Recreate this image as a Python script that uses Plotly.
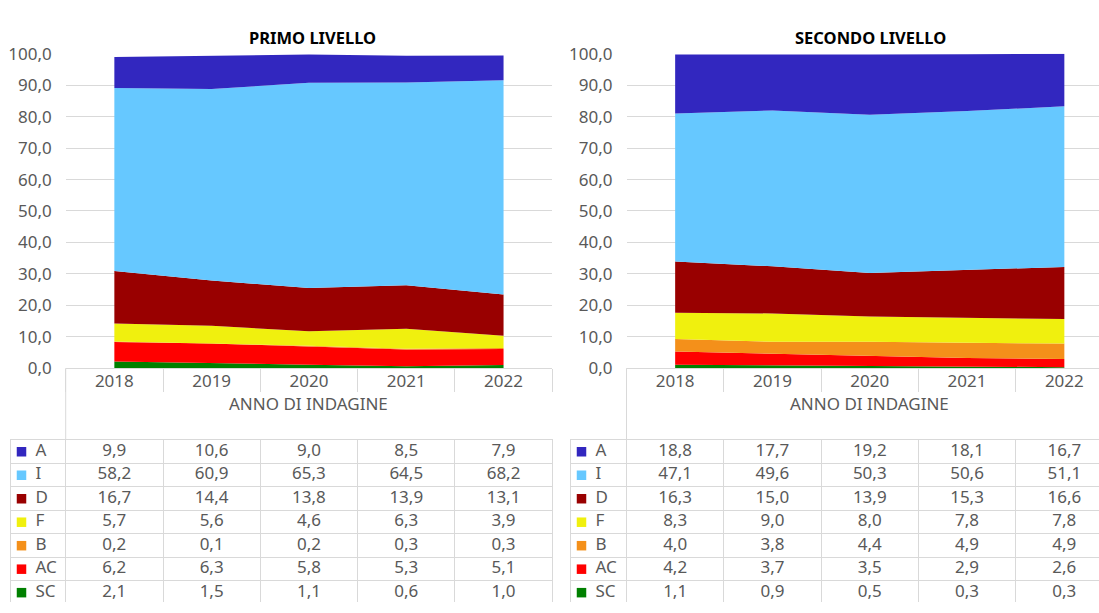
import plotly.graph_objects as go

# ---------------- data ----------------
years = ["2018", "2019", "2020", "2021", "2022"]
series = ["A", "I", "D", "F", "B", "AC", "SC"]
series_colors = ["#3227BF", "#66C8FF", "#990000", "#F0F00E", "#F4901A", "#FF0000", "#008000"]

primo_A = [9.9, 10.6, 9.0, 8.5, 7.9]
primo_I = [58.2, 60.9, 65.3, 64.5, 68.2]
primo_D = [16.7, 14.4, 13.8, 13.9, 13.1]
primo_F = [5.7, 5.6, 4.6, 6.3, 3.9]
primo_B = [0.2, 0.1, 0.2, 0.3, 0.3]
primo_AC = [6.2, 6.3, 5.8, 5.3, 5.1]
primo_SC = [2.1, 1.5, 1.1, 0.6, 1.0]

secondo_A = [18.8, 17.7, 19.2, 18.1, 16.7]
secondo_I = [47.1, 49.6, 50.3, 50.6, 51.1]
secondo_D = [16.3, 15.0, 13.9, 15.3, 16.6]
secondo_F = [8.3, 9.0, 8.0, 7.8, 7.8]
secondo_B = [4.0, 3.8, 4.4, 4.9, 4.9]
secondo_AC = [4.2, 3.7, 3.5, 2.9, 2.6]
secondo_SC = [1.1, 0.9, 0.5, 0.3, 0.3]

titles = ["PRIMO LIVELLO", "SECONDO LIVELLO"]
x_title = "ANNO DI INDAGINE"

primo = [primo_A, primo_I, primo_D, primo_F, primo_B, primo_AC, primo_SC]
secondo = [secondo_A, secondo_I, secondo_D, secondo_F, secondo_B, secondo_AC, secondo_SC]

# ---------------- geometry (pixels) ----------------
W, H = 1099, 613
FONT = "Noto Sans"
FS = 17
GREY = "#595959"
GRID = "#d9d9d9"

def px(x):
    return x / W

def py(y):
    return 1 - y / H

COL = 97.3  # px per category
plot_top, plot_bot = 43.5, 370.0
tab_top = 444.7
row_h = 24.4
panels = [
    dict(x0=65.7, x1=552.3, lab0=11.0, data=primo, suf="", tsuf="3", mirror=True, title_cx=312),
    dict(x0=626.5, x1=1099.0, lab0=571.0, data=secondo, suf="2", tsuf="4", mirror=False, title_cx=870),
]

fig = go.Figure()
layout = dict(
    width=W, height=H, autosize=False,
    margin=dict(l=0, r=0, t=0, b=0),
    paper_bgcolor="white", plot_bgcolor="white",
    separators=",.",
    showlegend=False,
    font=dict(family=FONT, size=FS, color=GREY),
    hovermode=False,
    annotations=[], shapes=[],
)

def fmt(v):
    return f"{v:.1f}".replace(".", ",")

for p_i, p in enumerate(panels):
    xa = "x" + p["suf"]
    ya = "y" + p["suf"]
    xt = "x" + p["tsuf"]
    yt = "y" + p["tsuf"]
    rng_hi = -0.5 + (p["x1"] - p["x0"]) / COL
    # stacked areas, bottom first
    for name, vals, col in reversed(list(zip(series, p["data"], series_colors))):
        fig.add_trace(go.Scatter(
            x=years, y=vals, name=name, mode="lines", stackgroup="s" + str(p_i),
            line=dict(width=0, color=col), fillcolor=col,
            xaxis=xa, yaxis=ya,
        ))
    layout["xaxis" + p["suf"]] = dict(
        domain=[px(p["x0"]), px(p["x1"])], anchor=ya,
        type="category", categoryorder="array", categoryarray=years,
        range=[-0.5, rng_hi], showgrid=False, zeroline=False,
        showline=True, linecolor=GRID, linewidth=1,
        ticks="outside", tickson="boundaries", ticklen=23, tickcolor=GRID, tickwidth=1,
        tickfont=dict(family=FONT, size=FS, color=GREY),
        ticklabelstandoff=-3,
        fixedrange=True,
    )
    layout["yaxis" + p["suf"]] = dict(
        domain=[py(plot_bot), py(plot_top)], anchor=xa,
        range=[0, 100], dtick=10, tick0=0, tickformat=".1f",
        showgrid=True, gridcolor=GRID, gridwidth=1, zeroline=False, showline=False,
        ticks="", tickfont=dict(family=FONT, size=FS, color=GREY),
        ticklabelstandoff=13, fixedrange=True,
    )
    # table
    lab_lo = -0.5 - (p["x0"] - p["lab0"]) / COL
    tx, ty, tt = [], [], []
    for r, vals in enumerate(p["data"]):
        for c, v in enumerate(vals):
            tx.append(c)
            ty.append(r)
            tt.append(fmt(v))
    fig.add_trace(go.Scatter(
        x=tx, y=ty, text=tt, mode="text", textposition="middle center",
        textfont=dict(family=FONT, size=FS, color=GREY),
        xaxis=xt, yaxis=yt,
    ))
    sq_x = -0.5 - (p["x0"] - (p["lab0"] + 10.5)) / COL
    lab_x = -0.5 - (p["x0"] - (p["lab0"] + 24.5)) / COL
    fig.add_trace(go.Scatter(
        x=[sq_x] * len(series), y=list(range(len(series))), mode="markers",
        marker=dict(symbol="square", size=9.5, color=series_colors, line=dict(width=0)),
        xaxis=xt, yaxis=yt,
    ))
    fig.add_trace(go.Scatter(
        x=[lab_x] * len(series), y=list(range(len(series))), text=series,
        mode="text", textposition="middle right",
        textfont=dict(family=FONT, size=FS, color=GREY),
        xaxis=xt, yaxis=yt,
    ))
    n_rows_vis = (H - tab_top) / row_h
    bounds = [-0.5 + k for k in range(len(years) + 1) if -0.5 + k < rng_hi - 0.01]
    layout["xaxis" + p["tsuf"]] = dict(
        domain=[px(p["lab0"]), px(p["x1"])], anchor=yt,
        range=[lab_lo, rng_hi], tickvals=bounds, showticklabels=False, ticks="",
        showgrid=True, gridcolor=GRID, gridwidth=1, zeroline=False,
        showline=True, side="top", linecolor=GRID, linewidth=1, fixedrange=True,
    )
    layout["yaxis" + p["tsuf"]] = dict(
        domain=[0, py(tab_top)], anchor=xt,
        range=[n_rows_vis - 0.5, -0.5], tickvals=[k + 0.5 for k in range(len(series) - 1)],
        showticklabels=False, ticks="", showgrid=True, gridcolor=GRID, gridwidth=1,
        zeroline=False, showline=True, mirror=p["mirror"], linecolor=GRID, linewidth=1,
        fixedrange=True,
    )
    # header left border
    layout["shapes"].append(dict(
        type="line", xref=xa + " domain", x0=0, x1=0, yref="paper",
        y0=py(plot_bot), y1=py(tab_top), line=dict(color=GRID, width=1),
    ))
    # titles
    layout["annotations"].append(dict(
        text="<b>" + titles[p_i] + "</b>", x=px(p["title_cx"]), y=py(26.5),
        xref="paper", yref="paper", showarrow=False, xanchor="center", yanchor="middle",
        font=dict(family=FONT, size=16.5, color="#000000"),
    ))
    layout["annotations"].append(dict(
        text=x_title, x=px(p["x0"] + 2.5 * COL), y=py(406.7),
        xref="paper", yref="paper", showarrow=False, xanchor="center", yanchor="middle",
        font=dict(family=FONT, size=FS, color=GREY),
    ))

fig.update_layout(**layout)
fig.write_html(
    "out.html",
    config={"displayModeBar": False, "responsive": False},
    post_script=(
        "var gd=document.getElementById('{plot_id}');"
        "document.documentElement.style.cssText='margin:0;padding:0;overflow:hidden;height:613px;width:1099px';"
        "document.body.style.cssText='margin:0;padding:0;overflow:hidden;height:613px;width:1099px';"
        "gd.style.position='fixed';gd.style.left='0px';gd.style.top='0px';"
    ),
)
